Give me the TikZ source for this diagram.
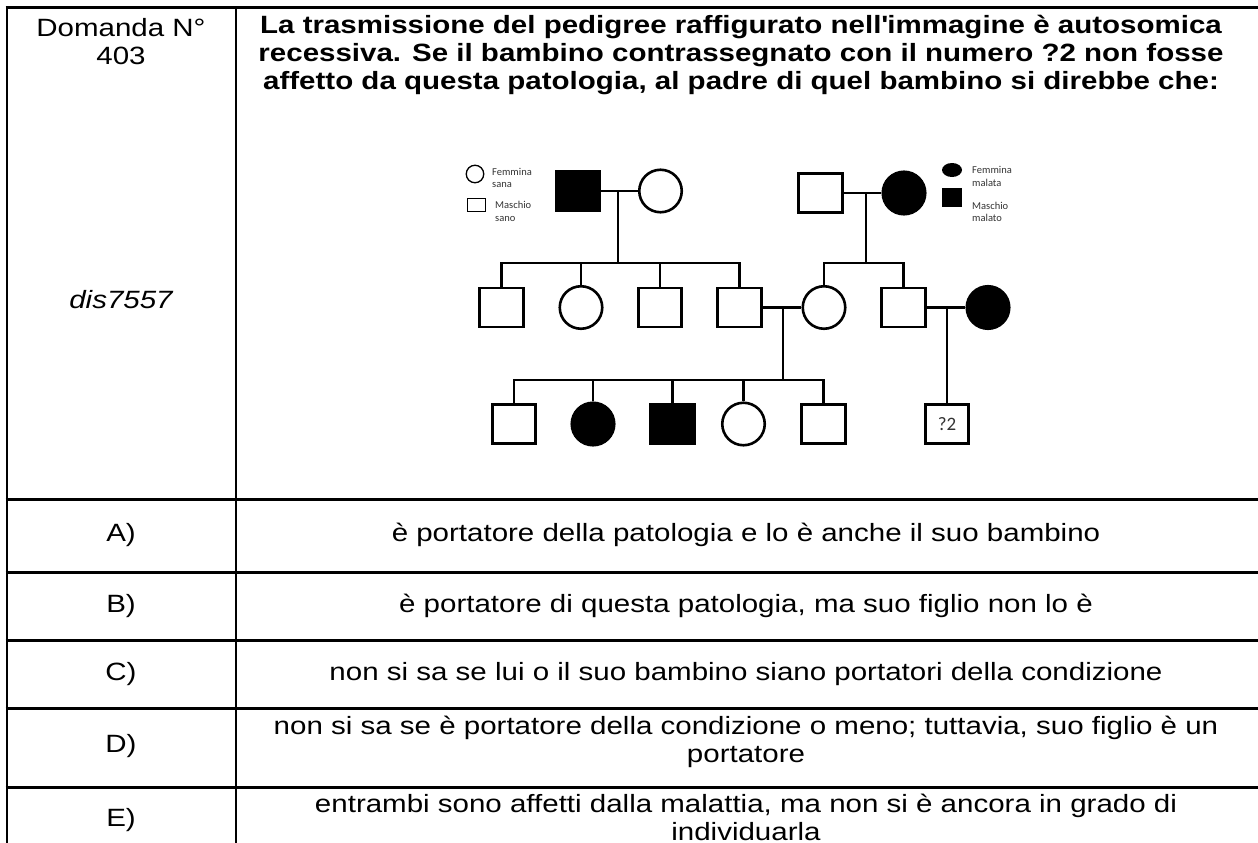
\documentclass[tikz,border=0pt]{standalone}
\usepackage{fontspec}
\setmainfont{Liberation Sans}[FakeStretch=1.18]
\newfontfamily\legendfont{Carlito}
\newcommand\plainquote{\XeTeXglyph\XeTeXcharglyph"27\relax}
\usetikzlibrary{shapes.geometric}
\tikzset{
  male/.style={draw, line width=2.6pt, minimum width=43.5pt, minimum height=39pt, inner sep=0pt},
  female/.style={draw, circle, line width=2.6pt, minimum size=42.5pt, inner sep=0pt},
  sick/.style={fill=black},
  kin/.style={line width=2.6pt},
  rule/.style={line width=3pt},
  cell/.style={align=center, inner sep=0pt, font=\fontsize{25}{28}\selectfont},
  note/.style={anchor=west, align=left, inner sep=0pt, text=black!80, font=\legendfont\fontsize{10.5}{12.5}\selectfont},
}
\begin{document}
\begin{tikzpicture}[x=1pt, y=-1pt]
  \useasboundingbox (0,0) rectangle (1258,843);
  % table
  \draw[rule] (5.7,8) -- (1258,8);
  \foreach \y in {499.5,572,640,708,787}
    \draw[rule] (5.7,\y) -- (1258,\y);
  \draw[line width=2.6pt] (7,6.5) -- (7,843);
  \draw[line width=2.6pt] (236,6.5) -- (236,843);

  \node[cell] (num) at (121,41.5) {Domanda N°\\403};
  \node[cell] (code) at (121,300) {\itshape dis7557};
  \node[cell, font=\bfseries\fontsize{25}{28}\selectfont] (quest) at (741,55)
    {La trasmissione del pedigree raffigurato nell\plainquote immagine è autosomica\\
     recessiva. Se il bambino contrassegnato con il numero ?2 non fosse\\
     affetto da questa patologia, al padre di quel bambino si direbbe che:};

  \node[cell] (la) at (121,535) {A)};
  \node[cell] (ta) at (746,535) {è portatore della patologia e lo è anche il suo bambino};
  \node[cell] (lb) at (121,606) {B)};
  \node[cell] (tb) at (746,606) {è portatore di questa patologia, ma suo figlio non lo è};
  \node[cell] (lc) at (121,674) {C)};
  \node[cell] (tc) at (746,674) {non si sa se lui o il suo bambino siano portatori della condizione};
  \node[cell] (ld) at (121,746) {D)};
  \node[cell] (td) at (746,741.5) {non si sa se è portatore della condizione o meno; tuttavia, suo figlio è un\\portatore};
  \node[cell] (le) at (121,820) {E)};
  \node[cell] (te) at (746,817.5) {entrambi sono affetti dalla malattia, ma non si è ancora in grado di\\individuarla};

  % legend
  \node[draw, circle, line width=1.3pt, minimum size=17.5pt, inner sep=0pt] (kf) at (475,174) {};
  \node[draw, line width=1.3pt, minimum width=17.5pt, minimum height=12.5pt, inner sep=0pt] (km) at (476.5,205) {};
  \node[note] (kft) at (492,178) {Femmina\\sana};
  \node[note] (kmt) at (495,211.5) {Maschio\\sano};
  \node[ellipse, fill=black, minimum width=20pt, minimum height=14pt, inner sep=0pt] (sf) at (952,170) {};
  \node[fill=black, minimum width=20pt, minimum height=19pt, inner sep=0pt] (sm) at (952,197.5) {};
  \node[note] (sft) at (972,176.5) {Femmina\\malata};
  \node[note] (smt) at (972,212) {Maschio\\malato};

  % generation I
  \node[male, sick] (I1) at (578,191) {};
  \node[female] (I2) at (660.5,191) {};
  \node[male] (I3) at (820.5,193) {};
  \node[female, sick] (I4) at (904,193) {};

  % generation II
  \node[male] (II1) at (501.5,307.5) {};
  \node[female] (II2) at (581,307.5) {};
  \node[male] (II3) at (660,307.5) {};
  \node[male] (II4) at (739.5,307.5) {};
  \node[female] (II5) at (824,307.5) {};
  \node[male] (II6) at (903.5,307.5) {};
  \node[female, sick] (II7) at (988,307.5) {};

  % generation III
  \node[male] (III1) at (514,424) {};
  \node[female, sick] (III2) at (593,424) {};
  \node[male, sick] (III3) at (672.5,424) {};
  \node[female] (III4) at (743.5,424) {};
  \node[male] (III5) at (823.5,424) {};
  \node[male] (III6) at (947,424) {\legendfont\fontsize{19}{19}\selectfont\color{black!80}?2};

  \coordinate (sibL) at (618,263);
  \coordinate (sibR) at (866,263);
  \coordinate (sibC) at (783,380);

  \draw[kin] (I1) -- (I2);
  \draw[kin] (I3) -- (I4);
  \draw[kin] (sibL |- I1) -- (sibL);
  \draw[kin] (sibR |- I3) -- (sibR);
  \draw[kin] (II1.north) |- (sibL) -| (II4.north);
  \draw[kin] (II2.north) -- (II2.north |- sibL);
  \draw[kin] (II3.north) -- (II3.north |- sibL);
  \draw[kin] (II5.north) |- (sibR) -| (II6.north);

  \draw[kin] (II4) -- (II5);
  \draw[kin] (II6) -- (II7);
  \draw[kin] (sibC |- II4) -- (sibC);
  \draw[kin] (III1.north) |- (sibC) -| (III5.north);
  \foreach \k in {III2,III3,III4}
    \draw[kin] (\k.north) -- (\k.north |- sibC);
  \draw[kin] (III6.north) -- (III6.north |- II6);
\end{tikzpicture}
\end{document}
